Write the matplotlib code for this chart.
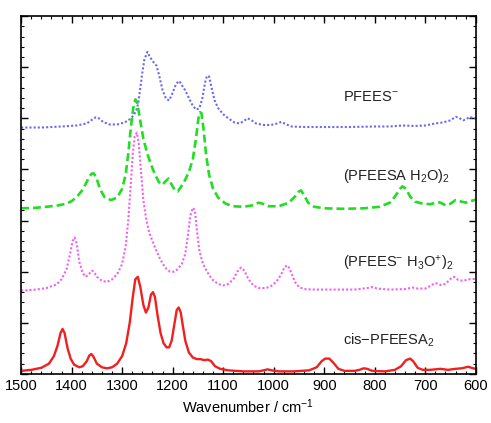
import matplotlib
matplotlib.use("Agg")
import matplotlib.pyplot as plt
from matplotlib.ticker import MultipleLocator

plt.rcParams["font.family"] = ["Liberation Sans", "DejaVu Sans"]
plt.rcParams["mathtext.default"] = "regular"

# spectra (wavenumber / cm-1, offset intensity)
red_wn = [1500, 1480, 1460, 1445, 1435, 1428, 1422, 1418, 1414, 1408, 1402, 1395, 1385, 1378,
          1370, 1365, 1361, 1357, 1350, 1340, 1330, 1320, 1310, 1300, 1292, 1285, 1279, 1274,
          1269, 1264, 1258, 1253, 1248, 1243, 1239, 1235, 1230, 1224, 1218, 1212, 1207, 1202,
          1197, 1192, 1188, 1184, 1180, 1175, 1168, 1160, 1152, 1145, 1138, 1130, 1124, 1116,
          1106, 1090, 1060, 1030, 1020, 1012, 1004, 990, 960, 930, 915, 905, 898, 890, 882,
          872, 860, 840, 830, 822, 815, 805, 780, 760, 748, 738, 730, 724, 715, 705, 690, 680,
          670, 655, 640, 628, 615, 605, 600]
red_y = [0.06, 0.08, 0.12, 0.2, 0.35, 0.55, 0.8, 0.88, 0.8, 0.5, 0.3, 0.18, 0.13, 0.15,
         0.25, 0.36, 0.39, 0.34, 0.2, 0.13, 0.11, 0.13, 0.2, 0.35, 0.6, 1.0, 1.5, 1.85,
         1.9, 1.7, 1.35, 1.2, 1.3, 1.55, 1.6, 1.5, 1.15, 0.8, 0.6, 0.52, 0.52, 0.65,
         0.95, 1.25, 1.3, 1.2, 0.95, 0.65, 0.42, 0.32, 0.29, 0.29, 0.27, 0.28, 0.25, 0.15,
         0.1, 0.07, 0.05, 0.05, 0.07, 0.09, 0.07, 0.05, 0.05, 0.07, 0.13, 0.25, 0.3, 0.3, 0.22,
         0.1, 0.06, 0.06, 0.08, 0.11, 0.1, 0.06, 0.05, 0.08, 0.15, 0.27, 0.3, 0.25, 0.12, 0.08, 0.08, 0.09,
         0.1, 0.08, 0.1, 0.11, 0.14, 0.11, 0.1]

mag_wn = [1500, 1470, 1450, 1430, 1420, 1410, 1403, 1398, 1394, 1390, 1385, 1378, 1372, 1366,
          1360, 1356, 1350, 1340, 1330, 1320, 1310, 1300, 1293, 1288, 1283, 1279, 1275, 1271,
          1267, 1263, 1258, 1252, 1246, 1240, 1234, 1225, 1215, 1205, 1198, 1190, 1182, 1175,
          1170, 1165, 1160, 1156, 1152, 1147, 1140, 1132, 1122, 1110, 1100, 1090, 1080, 1072,
          1065, 1058, 1050, 1040, 1030, 1015, 1005, 995, 985, 978, 972, 966, 958, 950, 940,
          920, 880, 840, 815, 805, 795, 770, 740, 725, 715, 700, 690, 680, 670, 660, 650, 643,
          635, 625, 615, 600]
mag_y = [1.63, 1.65, 1.68, 1.75, 1.85, 2.05, 2.35, 2.6, 2.67, 2.55, 2.2, 1.97, 1.9, 1.95,
         2.02, 2.0, 1.9, 1.82, 1.8, 1.85, 1.95, 2.15, 2.5, 3.0, 3.7, 4.3, 4.65, 4.72,
         4.5, 4.0, 3.4, 3.0, 2.75, 2.6, 2.45, 2.25, 2.08, 2.0, 2.0, 2.05, 2.15, 2.35,
         2.7, 3.1, 3.25, 3.2, 2.8, 2.4, 2.15, 2.0, 1.85, 1.76, 1.73, 1.76, 1.85, 2.0,
         2.08, 2.02, 1.85, 1.73, 1.68, 1.68, 1.72, 1.8, 1.95, 2.1, 2.12, 2.0, 1.8, 1.7, 1.66,
         1.65, 1.65, 1.65, 1.68, 1.7, 1.67, 1.65, 1.66, 1.69, 1.67, 1.67, 1.72, 1.78, 1.74, 1.76, 1.86, 1.9,
         1.84, 1.82, 1.85, 1.86]

grn_wn = [1500, 1470, 1450, 1430, 1410, 1400, 1390, 1380, 1372, 1365, 1360, 1356, 1351, 1344,
          1335, 1322, 1310, 1300, 1293, 1288, 1283, 1278, 1274, 1270, 1265, 1258, 1250, 1243,
          1235, 1227, 1220, 1213, 1208, 1203, 1196, 1190, 1184, 1175, 1168, 1160, 1154, 1149,
          1146, 1143, 1139, 1134, 1128, 1120, 1110, 1095, 1080, 1060, 1040, 1030, 1022, 1010,
          990, 970, 958, 950, 946, 940, 932, 920, 900, 860, 820, 790, 770, 760, 750, 745, 738,
          730, 720, 705, 690, 675, 670, 660, 650, 640, 632, 620, 610, 600]
grn_y = [3.24, 3.25, 3.27, 3.29, 3.33, 3.38, 3.46, 3.58, 3.72, 3.86, 3.92, 3.92, 3.84, 3.62,
         3.46, 3.4, 3.45, 3.62, 3.9, 4.3, 4.8, 5.2, 5.37, 5.3, 5.0, 4.6, 4.3, 4.1,
         3.9, 3.75, 3.7, 3.78, 3.82, 3.72, 3.6, 3.57, 3.65, 3.8, 3.95, 4.2, 4.6, 5.0,
         5.12, 5.1, 4.8, 4.3, 3.9, 3.62, 3.45, 3.33, 3.28, 3.27, 3.3, 3.35, 3.33, 3.28,
         3.28, 3.35, 3.47, 3.57, 3.59, 3.5, 3.35, 3.27, 3.24, 3.23, 3.24, 3.27, 3.35, 3.47, 3.62, 3.67, 3.62,
         3.47, 3.37, 3.33, 3.32, 3.36, 3.35, 3.3, 3.33, 3.4, 3.38, 3.35, 3.38, 3.41]

blu_wn = [1500, 1460, 1420, 1390, 1370, 1360, 1352, 1346, 1338, 1325, 1310, 1295, 1285, 1278,
          1272, 1268, 1264, 1260, 1256, 1250, 1245, 1238, 1232, 1227, 1220, 1213, 1207, 1200,
          1193, 1187, 1182, 1176, 1168, 1160, 1153, 1147, 1141, 1136, 1132, 1128, 1123, 1117,
          1110, 1100, 1090, 1078, 1068, 1060, 1052, 1045, 1035, 1020, 1005, 993, 985, 977, 965,
          940, 900, 850, 800, 770, 745, 720, 700, 680, 665, 650, 640, 633, 625, 618, 612, 605, 600]
blu_y = [4.82, 4.82, 4.84, 4.86, 4.9, 4.97, 5.02, 5.0, 4.93, 4.88, 4.88, 4.92, 4.98, 5.05,
         5.15, 5.3, 5.6, 5.9, 6.15, 6.3, 6.2, 6.1, 6.03, 5.85, 5.55, 5.38, 5.35, 5.5,
         5.68, 5.73, 5.65, 5.56, 5.4, 5.24, 5.17, 5.2, 5.4, 5.7, 5.83, 5.82, 5.6, 5.35,
         5.2, 5.08, 5.0, 4.92, 4.9, 4.94, 5.0, 4.97, 4.9, 4.87, 4.87, 4.9, 4.93, 4.89, 4.84,
         4.83, 4.83, 4.83, 4.84, 4.84, 4.86, 4.85, 4.86, 4.9, 4.92, 4.96, 5.03, 5.01, 4.96, 4.99, 5.03, 5.0, 5.0]

labels = [r"PFEES$^{-}$", r"(PFEESA H$_2$O)$_2$", r"(PFEES$^{-}$ H$_3$O$^{+}$)$_2$", r"cis$-$PFEESA$_2$"]
label_y = [5.41, 3.88, 2.16, 0.65]

fig = plt.figure(figsize=(4.91, 4.23), dpi=100)
ax = fig.add_axes([0.043, 0.116, 0.926, 0.846])

ax.plot(blu_wn, blu_y, color="#6a6af0", lw=1.5, ls=(0, (1, 1)))
ax.plot(grn_wn, grn_y, color="#22dd22", lw=1.9, ls=(0, (3, 1.5)))
ax.plot(mag_wn, mag_y, color="#f060f0", lw=1.5, ls=(0, (1, 1)))
ax.plot(red_wn, red_y, color="#f02020", lw=1.7)

for txt, yy in zip(labels, label_y):
    ax.text(862, yy, txt, fontsize=10.5, ha="left", va="center", color="#222222")

ax.set_xlim(1500, 600)
ax.set_ylim(0, 7)
ax.xaxis.set_major_locator(MultipleLocator(100))
ax.xaxis.set_minor_locator(MultipleLocator(20))
ax.yaxis.set_major_locator(MultipleLocator(1))
ax.yaxis.set_minor_locator(MultipleLocator(0.2))
ax.tick_params(which="both", direction="in", top=True, right=True, labelsize=10.5)
ax.tick_params(which="major", length=5, width=1)
ax.tick_params(which="minor", length=2.5, width=0.8)
ax.set_yticklabels([])
ax.set_xlabel(r"Wavenumber / cm$^{-1}$", fontsize=10.5, labelpad=3)
for s in ax.spines.values():
    s.set_linewidth(1.2)

fig.savefig("out.png", dpi=100)
